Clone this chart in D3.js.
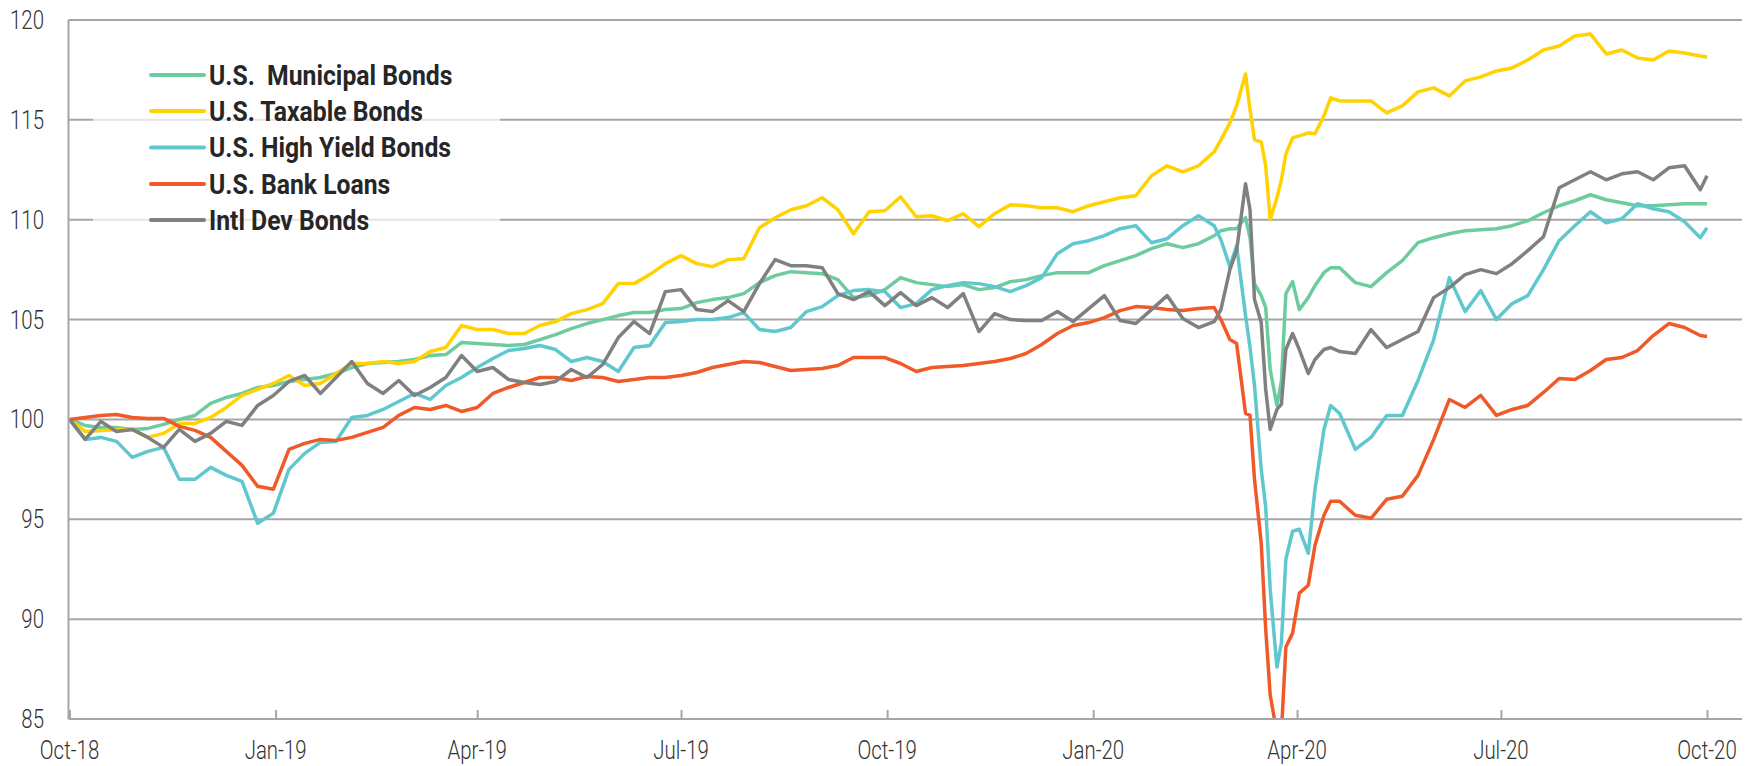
<!DOCTYPE html>
<html>
<head>
<meta charset="utf-8">
<script src="https://cdn.jsdelivr.net/npm/d3@7"></script>
<style>
    body { margin: 0; background: #ffffff; }
    svg { display: block; }
    .tick-label { font-family: Roboto, "Liberation Sans", sans-serif; font-size: 25px; font-weight: 300; fill: #333333; }
    .legend-label { font-family: Roboto, "Liberation Sans", sans-serif; font-size: 27px; font-weight: bold; fill: #262626; }
</style>
</head>
<body>
<svg id="chart"></svg>
<script>
const dates = [
    "2018-10-01", "2018-10-08", "2018-10-15", "2018-10-22", "2018-10-29", "2018-11-05", "2018-11-12", "2018-11-19",
    "2018-11-26", "2018-12-03", "2018-12-10", "2018-12-17", "2018-12-24", "2018-12-31", "2019-01-07", "2019-01-14",
    "2019-01-21", "2019-01-28", "2019-02-04", "2019-02-11", "2019-02-18", "2019-02-25", "2019-03-04", "2019-03-11",
    "2019-03-18", "2019-03-25", "2019-04-01", "2019-04-08", "2019-04-15", "2019-04-22", "2019-04-29", "2019-05-06",
    "2019-05-13", "2019-05-20", "2019-05-27", "2019-06-03", "2019-06-10", "2019-06-17", "2019-06-24", "2019-07-01",
    "2019-07-08", "2019-07-15", "2019-07-22", "2019-07-29", "2019-08-05", "2019-08-12", "2019-08-19", "2019-08-26",
    "2019-09-02", "2019-09-09", "2019-09-16", "2019-09-23", "2019-09-30", "2019-10-07", "2019-10-14", "2019-10-21",
    "2019-10-28", "2019-11-04", "2019-11-11", "2019-11-18", "2019-11-25", "2019-12-02", "2019-12-09", "2019-12-16",
    "2019-12-23", "2019-12-30", "2020-01-06", "2020-01-13", "2020-01-20", "2020-01-27", "2020-02-03", "2020-02-10",
    "2020-02-17",
    "2020-02-24", "2020-02-27", "2020-03-02", "2020-03-05", "2020-03-09", "2020-03-11", "2020-03-13", "2020-03-16",
    "2020-03-18", "2020-03-20", "2020-03-23", "2020-03-25", "2020-03-27", "2020-03-30", "2020-04-02", "2020-04-06",
    "2020-04-09", "2020-04-13", "2020-04-16",
    "2020-04-20", "2020-04-27", "2020-05-04", "2020-05-11", "2020-05-18", "2020-05-25", "2020-06-01", "2020-06-08",
    "2020-06-15", "2020-06-22", "2020-06-29", "2020-07-06", "2020-07-13", "2020-07-20", "2020-07-27", "2020-08-03",
    "2020-08-10", "2020-08-17", "2020-08-24", "2020-08-31", "2020-09-07", "2020-09-14", "2020-09-21", "2020-09-28",
    "2020-10-01"
];

const municipal = [
    100, 99.7, 99.6, 99.6, 99.5, 99.55, 99.75, 100.0, 100.2, 100.8, 101.1, 101.3, 101.6, 101.7, 101.9, 102.0,
    102.1, 102.3, 102.6, 102.8, 102.85, 102.9, 103.0,
    103.2, 103.25, 103.85, 103.8, 103.75, 103.7, 103.75, 104.0, 104.25, 104.55, 104.8, 105.0, 105.2, 105.35,
    105.35, 105.5, 105.55, 105.85, 106.0, 106.1, 106.3, 106.85,
    107.2, 107.4, 107.35, 107.3, 107.0, 106.1, 106.2, 106.5, 107.1, 106.85, 106.75, 106.65, 106.75, 106.5,
    106.6, 106.9, 107.0, 107.2, 107.35, 107.35, 107.35, 107.7, 107.95, 108.2, 108.55, 108.8, 108.6, 108.8,
    109.2, 109.45, 109.55, 109.55, 110.1, 109.1, 106.8, 106.2, 105.6, 102.5, 100.7, 101.9, 106.3, 106.9,
    105.5, 106.1, 106.7, 107.35, 107.6,
    107.6, 106.85, 106.65, 107.35, 107.95, 108.85, 109.1, 109.3, 109.45, 109.5, 109.55, 109.7, 109.95, 110.35,
    110.7, 110.95, 111.25, 111.0, 110.85, 110.7, 110.7, 110.75, 110.8, 110.8, 110.8
];

const taxable = [
    100, 99.4, 99.45, 99.5, 99.5, 99.1, 99.3, 99.8, 99.8, 100.1, 100.6, 101.2, 101.5, 101.8, 102.2, 101.7,
    101.8, 102.3, 102.8, 102.8, 102.9, 102.8, 102.9,
    103.4, 103.6, 104.7, 104.5, 104.5, 104.3, 104.3, 104.7, 104.9, 105.3, 105.5, 105.8, 106.8, 106.8,
    107.25, 107.8, 108.2, 107.8, 107.65, 108.0, 108.05, 109.6,
    110.1, 110.5, 110.7, 111.1, 110.5, 109.3, 110.4, 110.45, 111.15, 110.15, 110.2, 109.95, 110.3, 109.65,
    110.3, 110.75, 110.7, 110.6, 110.6, 110.4, 110.7, 110.9, 111.1, 111.2, 112.2, 112.7, 112.4, 112.7,
    113.4, 114.0, 114.85, 115.7, 117.3, 115.5, 114.0, 113.9, 112.7, 110.0, 111.1, 112.0, 113.3, 114.1,
    114.2, 114.35, 114.3, 115.2, 116.1,
    115.95, 115.95, 115.95, 115.35, 115.7, 116.4, 116.6, 116.2, 116.95, 117.15, 117.45, 117.6, 118.0, 118.5,
    118.7, 119.2, 119.3, 118.3, 118.5, 118.1, 118.0, 118.45, 118.35, 118.2, 118.15
];

const highYield = [
    100, 99.0, 99.1, 98.9, 98.1, 98.4, 98.6, 97.0, 97.0, 97.6, 97.2, 96.9, 94.8, 95.3, 97.5, 98.3,
    98.85, 98.9, 100.1, 100.2, 100.5, 100.9, 101.3,
    101.0, 101.7, 102.1, 102.6, 103.05, 103.45, 103.55, 103.7, 103.5, 102.9, 103.1, 102.9, 102.4, 103.6,
    103.7, 104.85, 104.9, 105.0, 105.0, 105.1, 105.35, 104.5,
    104.4, 104.6, 105.4, 105.65, 106.2, 106.45, 106.5, 106.4, 105.6, 105.8, 106.5, 106.7, 106.85, 106.8,
    106.65, 106.4, 106.7, 107.1, 108.3, 108.8, 108.95, 109.2, 109.55, 109.7, 108.85, 109.05, 109.7, 110.2,
    109.7, 109.0, 107.65, 108.7, 105.2, 103.6, 101.7, 97.5, 95.6, 91.5, 87.6, 88.8, 93.0, 94.4,
    94.5, 93.3, 96.5, 99.5, 100.7,
    100.3, 98.5, 99.1, 100.2, 100.2, 101.95, 104.0, 107.1, 105.4, 106.45, 105.0, 105.8, 106.2, 107.5,
    108.95, 109.7, 110.4, 109.85, 110.05, 110.8, 110.55, 110.4, 109.9, 109.1, 109.6
];

const bankLoans = [
    100, 100.1, 100.2, 100.25, 100.1, 100.05, 100.05, 99.65, 99.45, 99.1, 98.4, 97.7, 96.65, 96.5, 98.5, 98.8,
    99.0, 98.95, 99.1, 99.35, 99.6, 100.2, 100.6,
    100.5, 100.7, 100.4, 100.6, 101.3, 101.6, 101.85, 102.1, 102.1, 101.95, 102.15, 102.1, 101.9, 102.0,
    102.1, 102.1, 102.2, 102.35, 102.6, 102.75, 102.9, 102.85,
    102.65, 102.45, 102.5, 102.55, 102.7, 103.1, 103.1, 103.1, 102.8, 102.4, 102.6, 102.65, 102.7, 102.8,
    102.9, 103.05, 103.3, 103.75, 104.3, 104.7, 104.85, 105.1, 105.45, 105.65, 105.6, 105.5, 105.45, 105.55,
    105.6, 105.0, 104.0, 103.8, 100.3, 100.2, 97.0, 93.8, 89.5, 86.2, 84.3, 84.3, 88.6, 89.3,
    91.3, 91.7, 93.7, 95.2, 95.9,
    95.9, 95.2, 95.05, 96.0, 96.15, 97.2, 99.0, 101.0, 100.6, 101.2, 100.2, 100.5, 100.7, 101.35,
    102.05, 102.0, 102.45, 103.0, 103.1, 103.45, 104.2, 104.8, 104.6, 104.2, 104.15
];

const intlDev = [
    100, 99.0, 99.9, 99.4, 99.5, 99.1, 98.6, 99.5, 98.9, 99.3, 99.9, 99.7, 100.7, 101.2, 101.9, 102.2,
    101.3, 102.1, 102.9, 101.8, 101.3, 101.95, 101.2,
    101.6, 102.1, 103.2, 102.4, 102.6, 102.0, 101.85, 101.75, 101.9, 102.5, 102.1, 102.75, 104.1, 104.9,
    104.3, 106.4, 106.5, 105.5, 105.4, 105.95, 105.4, 106.8,
    108.0, 107.7, 107.7, 107.6, 106.3, 106.0, 106.4, 105.7, 106.35, 105.7, 106.1, 105.6, 106.3, 104.4,
    105.3, 105.0, 104.95, 104.95, 105.4, 104.9, 105.55, 106.2, 104.95, 104.8, 105.5, 106.2, 105.05, 104.6,
    104.9, 105.5, 107.5, 108.45, 111.8, 110.5, 106.0, 104.85, 101.5, 99.5, 100.5, 100.75, 103.5, 104.3,
    103.5, 102.3, 103.0, 103.5, 103.6,
    103.4, 103.3, 104.5, 103.6, 104.0, 104.4, 106.1, 106.6, 107.25, 107.5, 107.3, 107.8, 108.45, 109.15,
    111.6, 112.0, 112.4, 112.0, 112.3, 112.4, 112.0, 112.6, 112.7, 111.5, 112.2
];

const seriesNames = ["U.S.  Municipal Bonds", "U.S. Taxable Bonds", "U.S. High Yield Bonds", "U.S. Bank Loans", "Intl Dev Bonds"];
const seriesColors = ["#6dcc9f", "#ffd200", "#5fc8cf", "#f05a28", "#808080"];
const seriesValues = [municipal, taxable, highYield, bankLoans, intlDev];
const yTicks = [85, 90, 95, 100, 105, 110, 115, 120];

const width = 1764;
const height = 766;
const plotLeft = 68.5;
const plotRight = 1742;
const plotTop = 20;
const plotBottom = 719;

const parseDate = d3.timeParse("%Y-%m-%d");
const dateValues = dates.map(parseDate);

const svg = d3.select("#chart")
    .attr("width", width)
    .attr("height", height);

const xScale = d3.scaleTime()
    .domain([parseDate("2018-10-01"), parseDate("2020-10-01")])
    .range([69.5, 1707]);

const yScale = d3.scaleLinear()
    .domain([85, 120])
    .range([plotBottom, plotTop]);

// squeeze text horizontally so it looks like the narrow face in the original
function condense(selection, sampleText, targetWidth)
{
    const probe = svg.append("text").attr("class", selection.attr("class")).text(sampleText);
    const factor = targetWidth / probe.node().getComputedTextLength();
    probe.remove();
    return factor;
}

// gridlines
svg.append("g")
    .selectAll("line")
    .data(yTicks.filter(d => d > 85))
    .enter().append("line")
    .attr("x1", plotLeft)
    .attr("x2", plotRight)
    .attr("y1", d => yScale(d))
    .attr("y2", d => yScale(d))
    .attr("stroke", "#a6a6a6")
    .attr("stroke-width", 2);

// y labels
const yLabels = svg.append("g")
    .selectAll("text")
    .data(yTicks)
    .enter().append("text")
    .attr("class", "tick-label")
    .attr("dy", "0.36em")
    .attr("text-anchor", "end")
    .text(d => d);
const tickFactor = condense(yLabels, "100", 34);
yLabels.attr("transform", d => `translate(44, ${yScale(d)}) scale(${tickFactor}, 1)`);

// x axis, ticks point up into the plot
const xTicks = d3.timeMonth.every(3).range(parseDate("2018-10-01"), parseDate("2020-10-02"));
const xAxis = d3.axisTop(xScale)
    .tickValues(xTicks)
    .tickSize(9)
    .tickFormat("");

const xAxisG = svg.append("g")
    .attr("transform", `translate(0, ${plotBottom})`)
    .call(xAxis);
xAxisG.select(".domain").remove();
xAxisG.selectAll(".tick line").attr("stroke", "#a6a6a6").attr("stroke-width", 2);

svg.append("g")
    .selectAll("text")
    .data(xTicks)
    .enter().append("text")
    .attr("class", "tick-label")
    .attr("text-anchor", "middle")
    .attr("transform", d => `translate(${xScale(d)}, 759) scale(${tickFactor}, 1)`)
    .text(d => d3.timeFormat("%b-%y")(d));

// lines
svg.append("clipPath")
    .attr("id", "plotClip")
    .append("rect")
    .attr("x", plotLeft)
    .attr("y", 0)
    .attr("width", plotRight - plotLeft)
    .attr("height", plotBottom + 1);

const line = d3.line()
    .x((d, i) => xScale(dateValues[i]))
    .y(d => yScale(d));

svg.append("g")
    .attr("clip-path", "url(#plotClip)")
    .selectAll("path")
    .data(seriesValues)
    .enter().append("path")
    .attr("d", d => line(d))
    .attr("fill", "none")
    .attr("stroke", (d, i) => seriesColors[i])
    .attr("stroke-width", 3.5)
    .attr("stroke-linejoin", "round");

// axis lines on top
svg.append("line")
    .attr("x1", plotLeft).attr("x2", plotRight)
    .attr("y1", plotBottom).attr("y2", plotBottom)
    .attr("stroke", "#a6a6a6").attr("stroke-width", 2);
svg.append("line")
    .attr("x1", plotLeft).attr("x2", plotLeft)
    .attr("y1", plotTop).attr("y2", plotBottom)
    .attr("stroke", "#a6a6a6").attr("stroke-width", 2);

// legend
svg.append("rect")
    .attr("x", 93)
    .attr("y", 44)
    .attr("width", 407)
    .attr("height", 194)
    .attr("fill", "#ffffff")
    .attr("fill-opacity", 0.7);

const legendRows = [75, 111, 147.5, 184, 220];
const legend = svg.append("g")
    .selectAll("g")
    .data(seriesNames)
    .enter().append("g")
    .attr("transform", (d, i) => `translate(0, ${legendRows[i]})`);

legend.append("line")
    .attr("x1", 151)
    .attr("x2", 204)
    .attr("stroke", (d, i) => seriesColors[i])
    .attr("stroke-width", 4)
    .attr("stroke-linecap", "round");

const legendText = legend.append("text")
    .attr("class", "legend-label")
    .attr("dy", "0.36em")
    .style("white-space", "pre")
    .text(d => d);
const legendFactor = condense(legendText, "U.S. Taxable Bonds", 214);
legendText.attr("transform", `translate(209, 0) scale(${legendFactor}, 1)`);
</script>
</body>
</html>
